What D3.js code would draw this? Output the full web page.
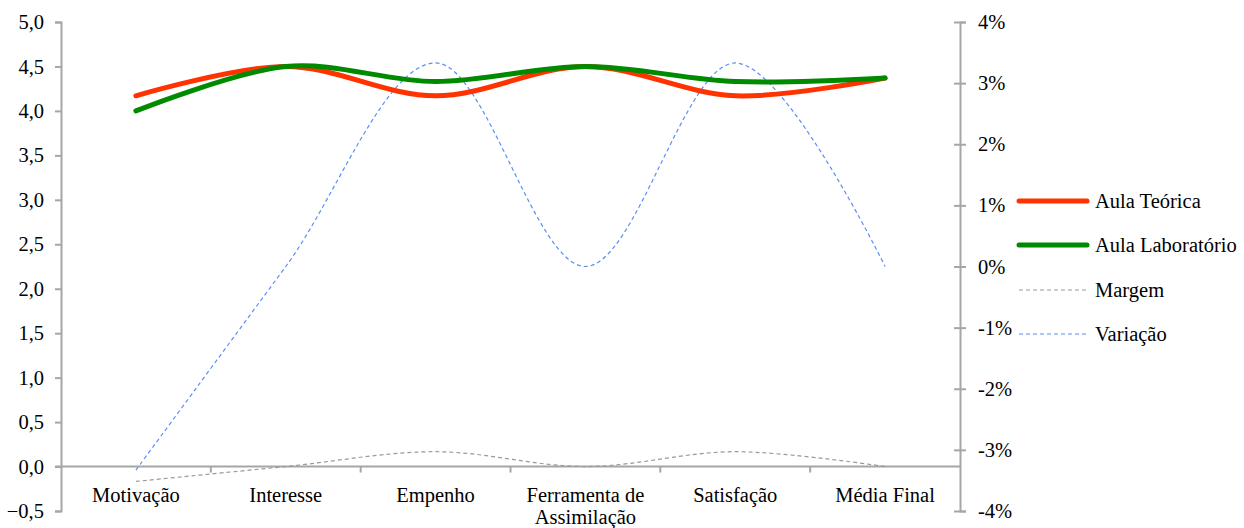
<!DOCTYPE html>
<html>
<head>
<meta charset="utf-8">
<script src="https://cdn.jsdelivr.net/npm/d3@7"></script>
<style>
  html, body { margin: 0; padding: 0; background: #fff; }
  svg { display: block; }
</style>
</head>
<body>
<svg id="chart" width="1244" height="528"></svg>
<script>
// Categories and series
const categories = ["Motivação", "Interesse", "Empenho", "Ferramenta de Assimilação", "Satisfação", "Média Final"];
const aulaTeorica = [4.17, 4.5, 4.17, 4.5, 4.17, 4.37];
const aulaLaboratorio = [4.0, 4.5, 4.33, 4.5, 4.33, 4.37];
const margem = [-0.167, 0, 0.167, 0, 0.167, 0];          // left axis units
const variacao = [-3.33, 0, 3.33, 0, 3.33, 0];            // percent, right axis
const leftTicks = [-0.5, 0, 0.5, 1, 1.5, 2, 2.5, 3, 3.5, 4, 4.5, 5];
const rightTicks = [-4, -3, -2, -1, 0, 1, 2, 3, 4];

const svg = d3.select("#chart");
const plotLeft = 61, plotRight = 960, plotTop = 22, plotBottom = 511;
const fontSize = "20.5px";
const serif = "'Liberation Serif', 'DejaVu Serif', serif";

const x = d3.scaleBand().domain(categories).range([plotLeft, plotRight]);
const yL = d3.scaleLinear().domain([-0.5, 5]).range([plotBottom, plotTop]);
const yR = d3.scaleLinear().domain([-4, 4]).range([plotBottom, plotTop]);

const axisColor = "#a6a6a6";
const fmtL = d => d3.format(".1f")(d).replace(".", ",");

const styleText = sel => sel.attr("font-family", serif).attr("font-size", fontSize)
  .style("font-family", serif).style("font-size", fontSize).attr("fill", "#000");

// Left value axis
const gL = svg.append("g").attr("transform", `translate(${plotLeft},0)`)
  .call(d3.axisLeft(yL).tickValues(leftTicks).tickFormat(fmtL).tickSizeOuter(0).tickSize(6).tickPadding(11));
gL.attr("font-family", serif);
gL.select(".domain").attr("stroke", axisColor).attr("stroke-width", 2);
gL.selectAll(".tick line").attr("stroke", axisColor).attr("stroke-width", 2);
gL.selectAll(".tick text").call(styleText);

// Right percentage axis (ticks cross the line)
const gR = svg.append("g").attr("transform", `translate(${plotRight},0)`)
  .call(d3.axisRight(yR).tickValues(rightTicks).tickFormat(d => d + "%").tickSizeOuter(0).tickSize(6).tickPadding(12));
gR.attr("font-family", serif);
gR.select(".domain").attr("stroke", axisColor).attr("stroke-width", 2);
gR.selectAll(".tick line").attr("stroke", axisColor).attr("stroke-width", 2).attr("x1", -6);
gR.selectAll(".tick text").call(styleText);

// Category axis at zero
const y0 = yL(0);
svg.append("line").attr("x1", plotLeft - 6).attr("x2", plotRight).attr("y1", y0).attr("y2", y0)
  .attr("stroke", axisColor).attr("stroke-width", 2);
categories.slice(1).forEach(c => {
  svg.append("line").attr("x1", x(c)).attr("x2", x(c)).attr("y1", y0).attr("y2", y0 + 6)
    .attr("stroke", axisColor).attr("stroke-width", 2);
});
categories.forEach(c => {
  const words = c === "Ferramenta de Assimilação" ? ["Ferramenta de", "Assimilação"] : [c];
  const t = svg.append("text").attr("x", x(c) + x.bandwidth() / 2).attr("y", y0 + 35)
    .attr("text-anchor", "middle").call(styleText);
  words.forEach((w, i) => t.append("tspan").attr("x", x(c) + x.bandwidth() / 2).attr("dy", i ? 22 : 0).text(w));
});

const cx = c => x(c) + x.bandwidth() / 2;
const curve = d3.curveCatmullRom.alpha(0);

const lineL = d3.line().x((d, i) => cx(categories[i])).y(d => yL(d)).curve(curve);
const lineR = d3.line().x((d, i) => cx(categories[i])).y(d => yR(d)).curve(curve);

// Dashed series
svg.append("path").attr("d", lineL(margem)).attr("fill", "none")
  .attr("stroke", "#999999").attr("stroke-width", 1.2).attr("stroke-dasharray", "4,3");
svg.append("path").attr("d", lineR(variacao)).attr("fill", "none")
  .attr("stroke", "#5b8ef7").attr("stroke-width", 1.2).attr("stroke-dasharray", "4,3");

// Main series
svg.append("path").attr("d", lineL(aulaTeorica)).attr("fill", "none")
  .attr("stroke", "#ff3300").attr("stroke-width", 5).attr("stroke-linecap", "round");
svg.append("path").attr("d", lineL(aulaLaboratorio)).attr("fill", "none")
  .attr("stroke", "#008a00").attr("stroke-width", 5).attr("stroke-linecap", "round");

// Legend
const legend = [
  { name: "Aula Teórica", color: "#ff3300", w: 5, dash: null, y: 201 },
  { name: "Aula Laboratório", color: "#008a00", w: 5, dash: null, y: 245 },
  { name: "Margem", color: "#999999", w: 1.2, dash: "4,3", y: 290 },
  { name: "Variação", color: "#5b8ef7", w: 1.2, dash: "4,3", y: 334 }
];
legend.forEach(l => {
  svg.append("line").attr("x1", 1019).attr("x2", 1087).attr("y1", l.y).attr("y2", l.y)
    .attr("stroke", l.color).attr("stroke-width", l.w).attr("stroke-linecap", l.dash ? "butt" : "round")
    .attr("stroke-dasharray", l.dash);
  svg.append("text").attr("x", 1095).attr("y", l.y + 7).call(styleText).text(l.name);
});
</script>
</body>
</html>
